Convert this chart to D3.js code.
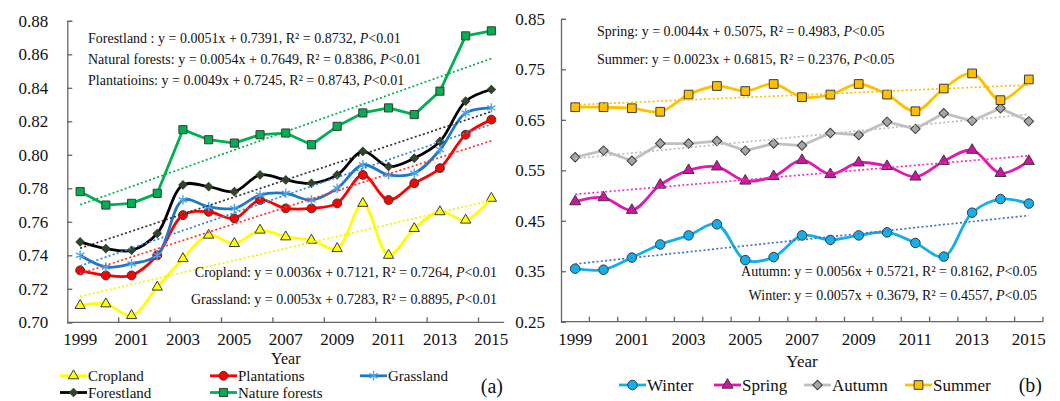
<!DOCTYPE html>
<html>
<head>
<meta charset="utf-8">
<script src="https://cdn.jsdelivr.net/npm/d3@7"></script>
<style>
  body { margin: 0; background: #fff; }
  svg { display: block; font-family: "Liberation Serif", "Times New Roman", serif; }
</style>
</head>
<body>
<svg id="chart" width="1060" height="401"></svg>
<script>
// ---- data ----
const years = d3.range(1999, 2016).map(String);
const labelYears = years.filter((d, i) => i % 2 === 0);

const cropland = [0.710, 0.711, 0.704, 0.721, 0.738, 0.752, 0.747, 0.755, 0.751, 0.749, 0.744, 0.771, 0.740, 0.756, 0.766, 0.761, 0.774];
const plantations = [0.731, 0.728, 0.728, 0.740, 0.764, 0.766, 0.762, 0.773, 0.768, 0.768, 0.771, 0.788, 0.773, 0.783, 0.792, 0.812, 0.821];
const grassland = [0.740, 0.733, 0.735, 0.740, 0.773, 0.769, 0.768, 0.776, 0.777, 0.773, 0.780, 0.794, 0.788, 0.789, 0.803, 0.825, 0.828];
const forestland = [0.748, 0.744, 0.743, 0.753, 0.782, 0.781, 0.778, 0.788, 0.785, 0.783, 0.788, 0.802, 0.793, 0.798, 0.808, 0.832, 0.839];
const natureForests = [0.778, 0.770, 0.771, 0.777, 0.815, 0.809, 0.807, 0.812, 0.813, 0.806, 0.817, 0.825, 0.828, 0.824, 0.838, 0.871, 0.874];

const winter = [0.355, 0.353, 0.377, 0.403, 0.421, 0.443, 0.372, 0.378, 0.421, 0.412, 0.421, 0.427, 0.406, 0.379, 0.466, 0.493, 0.484];
const spring = [0.488, 0.496, 0.471, 0.521, 0.550, 0.557, 0.529, 0.538, 0.570, 0.542, 0.565, 0.558, 0.537, 0.568, 0.590, 0.544, 0.568];
const autumn = [0.576, 0.589, 0.569, 0.603, 0.603, 0.608, 0.589, 0.603, 0.599, 0.624, 0.620, 0.646, 0.632, 0.663, 0.648, 0.673, 0.647];
const summer = [0.675, 0.675, 0.673, 0.666, 0.700, 0.717, 0.707, 0.721, 0.695, 0.700, 0.721, 0.700, 0.667, 0.712, 0.742, 0.689, 0.730];

const leftTicks = [0.70, 0.72, 0.74, 0.76, 0.78, 0.80, 0.82, 0.84, 0.86, 0.88];
const rightTicks = [0.25, 0.35, 0.45, 0.55, 0.65, 0.75, 0.85];

const leftTopEquations = [
  'Forestland : y = 0.0051x + 0.7391, R² = 0.8732, P<0.01',
  'Natural forests: y = 0.0054x + 0.7649, R² = 0.8386, P<0.01',
  'Plantatioins: y = 0.0049x + 0.7245, R² = 0.8743, P<0.01'
];
const leftBottomEquations = [
  'Cropland: y = 0.0036x + 0.7121, R² = 0.7264, P<0.01',
  'Grassland: y = 0.0053x + 0.7283, R² = 0.8895, P<0.01'
];
const rightTopEquations = [
  'Spring: y = 0.0044x + 0.5075, R² = 0.4983, P<0.05',
  'Summer: y = 0.0023x + 0.6815, R² = 0.2376, P<0.05'
];
const rightBottomEquations = [
  'Autumn: y = 0.0056x + 0.5721, R² = 0.8162, P<0.05',
  'Winter: y = 0.0057x + 0.3679, R² = 0.4557, P<0.05'
];

// ---- series styling ----
const leftSeries = [
  {name: 'Cropland', values: cropland, color: '#FFFF00', fill: '#FFFF00', trend: '#F2F200', marker: 'triangle', smooth: true},
  {name: 'Plantations', values: plantations, color: '#FF0000', fill: '#FF0000', trend: '#FF3333', marker: 'circle', smooth: true},
  {name: 'Grassland', values: grassland, color: '#1E78C8', fill: '#4FA3E8', trend: '#2F86D8', marker: 'star', smooth: true},
  {name: 'Forestland', values: forestland, color: '#000000', fill: '#2A4A20', trend: '#333333', marker: 'diamond', smooth: true},
  {name: 'Nature forests', values: natureForests, color: '#00B050', fill: '#00B050', trend: '#00B050', marker: 'square', smooth: false}
];
const rightSeries = [
  {name: 'Winter', values: winter, color: '#12AFEA', fill: '#12AFEA', trend: '#4472C4', marker: 'circle', smooth: true},
  {name: 'Spring', values: spring, color: '#E01AB0', fill: '#D511A5', trend: '#F030C8', marker: 'triangle', smooth: true},
  {name: 'Autumn', values: autumn, color: '#C0C0C0', fill: '#A6A6A6', trend: '#BDBDBD', marker: 'diamond', smooth: false},
  {name: 'Summer', values: summer, color: '#FFC000', fill: '#FFC000', trend: '#FFC000', marker: 'square', smooth: true}
];

const svg = d3.select('#chart');

function linearFit(values) {
  const n = values.length;
  const xs = values.map((d, i) => i + 1);
  const mx = d3.mean(xs), my = d3.mean(values);
  let sxy = 0, sxx = 0;
  xs.forEach((x, i) => { sxy += (x - mx) * (values[i] - my); sxx += (x - mx) * (x - mx); });
  const a = sxy / sxx;
  return {a: a, b: my - a * mx, n: n};
}

function markerPath(type, big) {
  const k = big ? 1.15 : 1;
  if (type === 'triangle') return d3.symbol(d3.symbolTriangle, 46 * k)();
  if (type === 'circle') return d3.symbol(d3.symbolCircle, 62 * k)();
  if (type === 'square') return d3.symbol(d3.symbolSquare, 66 * k)();
  if (type === 'star') return d3.symbol(d3.symbolAsterisk, 62 * k)();
  if (type === 'diamond') return d3.symbol(d3.symbolSquare, 34 * k * k)();
}

function drawMarker(g, s, x, y, big) {
  const p = g.append('path')
    .attr('d', markerPath(s.marker, big))
    .attr('transform', 'translate(' + x + ',' + y + ')' + (s.marker === 'diamond' ? ' rotate(45)' : ''));
  if (s.marker === 'star') {
    p.attr('fill', 'none').attr('stroke', s.fill).attr('stroke-width', 1.4);
  } else {
    p.attr('fill', s.fill).attr('stroke', '#3a3a3a').attr('stroke-width', 1);
  }
}

function drawEquation(parent, str, x, y, anchor) {
  const idx = str.indexOf('P<');
  const t = parent.append('text')
    .attr('x', x).attr('y', y)
    .attr('text-anchor', anchor)
    .attr('font-size', 14)
    .attr('fill', '#111');
  t.append('tspan').text(str.substring(0, idx));
  t.append('tspan').attr('font-style', 'italic').text('P');
  t.append('tspan').text(str.substring(idx + 1));
}

function drawPanel(cfg) {
  const g = svg.append('g');
  const x = d3.scaleBand().domain(years).range([cfg.x0, cfg.x1]).paddingInner(0).paddingOuter(0);
  const y = d3.scaleLinear().domain(cfg.domain).range([cfg.yBottom, cfg.yTop]);
  const cx = d => x(d) + x.bandwidth() / 2;

  // y axis (ticks pointing inside)
  const yAxis = g.append('g')
    .attr('transform', 'translate(' + cfg.x0 + ',0)')
    .call(d3.axisLeft(y).tickValues(cfg.ticks).tickSize(-5).tickPadding(cfg.labelGap).tickFormat(d3.format('.2f')));
  yAxis.select('.domain').attr('stroke', '#666').attr('stroke-width', 1.3);
  yAxis.selectAll('.tick line').attr('stroke', '#666').attr('stroke-width', 1.3);
  yAxis.selectAll('text').attr('font-size', 17).attr('fill', '#111').attr('font-family', 'Liberation Serif');

  // x axis: line, boundary tick marks, labels
  g.append('line')
    .attr('x1', cfg.x0).attr('x2', cfg.x1)
    .attr('y1', cfg.yBottom).attr('y2', cfg.yBottom)
    .attr('stroke', '#666').attr('stroke-width', 1.3);
  const bounds = years.map(d => x(d)).concat([cfg.x1]).filter((d, i) => i > 0 && i % cfg.tickEvery === 0);
  g.selectAll('.xtick').data(bounds).enter().append('line')
    .attr('x1', d => d).attr('x2', d => d)
    .attr('y1', cfg.yBottom).attr('y2', cfg.yBottom - 5)
    .attr('stroke', '#666').attr('stroke-width', 1.3);
  const xAxis = g.append('g')
    .attr('transform', 'translate(0,' + cfg.yBottom + ')')
    .call(d3.axisBottom(x).tickValues(labelYears).tickSize(0).tickPadding(11));
  xAxis.select('.domain').remove();
  xAxis.selectAll('text').attr('font-size', 17).attr('fill', '#111').attr('font-family', 'Liberation Serif');

  g.append('text')
    .attr('x', (cfg.x0 + cfg.x1) / 2).attr('y', cfg.titleY)
    .attr('text-anchor', 'middle').attr('font-size', cfg.titleSize).attr('fill', '#111')
    .text('Year');

  // series
  cfg.series.forEach(s => {
    const line = d3.line()
      .x((d, i) => cx(years[i]))
      .y(d => y(d))
      .curve(s.smooth ? d3.curveCatmullRom.alpha(0.5) : d3.curveLinear);
    g.append('path')
      .attr('d', line(s.values))
      .attr('fill', 'none')
      .attr('stroke', s.color)
      .attr('stroke-width', 2.8)
      .attr('stroke-linejoin', 'round');
    s.values.forEach((v, i) => drawMarker(g, s, cx(years[i]), y(v), cfg.bigMarkers));
  });

  // linear trend lines
  cfg.series.forEach(s => {
    const fit = linearFit(s.values);
    g.append('line')
      .attr('x1', cx(years[0])).attr('y1', y(fit.a * 1 + fit.b))
      .attr('x2', cx(years[years.length - 1])).attr('y2', y(fit.a * fit.n + fit.b))
      .attr('stroke', s.trend)
      .attr('stroke-width', 1.7)
      .attr('stroke-dasharray', '2,2.3');
  });

  return g;
}

const left = drawPanel({
  x0: 67.3, x1: 504.2, yBottom: 322.3, yTop: 20.8, domain: [0.70, 0.88],
  ticks: leftTicks, labelGap: 19, tickEvery: 2, titleY: 363.5, titleSize: 16,
  series: leftSeries, bigMarkers: false
});
const right = drawPanel({
  x0: 561, x1: 1043, yBottom: 321.7, yTop: 18.9, domain: [0.25, 0.85],
  ticks: rightTicks, labelGap: 16, tickEvery: 1, titleY: 366.5, titleSize: 17,
  series: rightSeries, bigMarkers: true
});

// equations
leftTopEquations.forEach((e, i) => drawEquation(left, e, 88, 42.5 + i * 21, 'start'));
leftBottomEquations.forEach((e, i) => drawEquation(left, e, 497, 277 + i * 26.5, 'end'));
rightTopEquations.forEach((e, i) => drawEquation(right, e, 597, 36 + i * 28, 'start'));
rightBottomEquations.forEach((e, i) => drawEquation(right, e, 1037, 275.5 + i * 24, 'end'));

// legends
function drawLegendItem(s, lx, ly, big, fs, dy) {
  const g = svg.append('g');
  g.append('line')
    .attr('x1', lx).attr('x2', lx + 27)
    .attr('y1', ly).attr('y2', ly)
    .attr('stroke', s.color).attr('stroke-width', 2.8);
  drawMarker(g, s, lx + 13.5, ly, big);
  g.append('text')
    .attr('x', lx + 28).attr('y', ly + dy)
    .attr('font-size', fs).attr('fill', '#111')
    .text(s.name);
}
const leftLegendPos = [[60, 375.8], [210, 375.8], [360, 375.8], [60, 392.5], [210, 392.5]];
leftSeries.forEach((s, i) => drawLegendItem(s, leftLegendPos[i][0], leftLegendPos[i][1], false, 15, 5));
const rightLegendPos = [[619, 385], [714, 385], [804, 385], [905, 385]];
rightSeries.forEach((s, i) => drawLegendItem(s, rightLegendPos[i][0], rightLegendPos[i][1], true, 17, 5.5));

svg.append('text').attr('x', 503).attr('y', 393).attr('text-anchor', 'end')
  .attr('font-size', 20).attr('fill', '#111').text('(a)');
svg.append('text').attr('x', 1042).attr('y', 392).attr('text-anchor', 'end')
  .attr('font-size', 20).attr('fill', '#111').text('(b)');
</script>
</body>
</html>
